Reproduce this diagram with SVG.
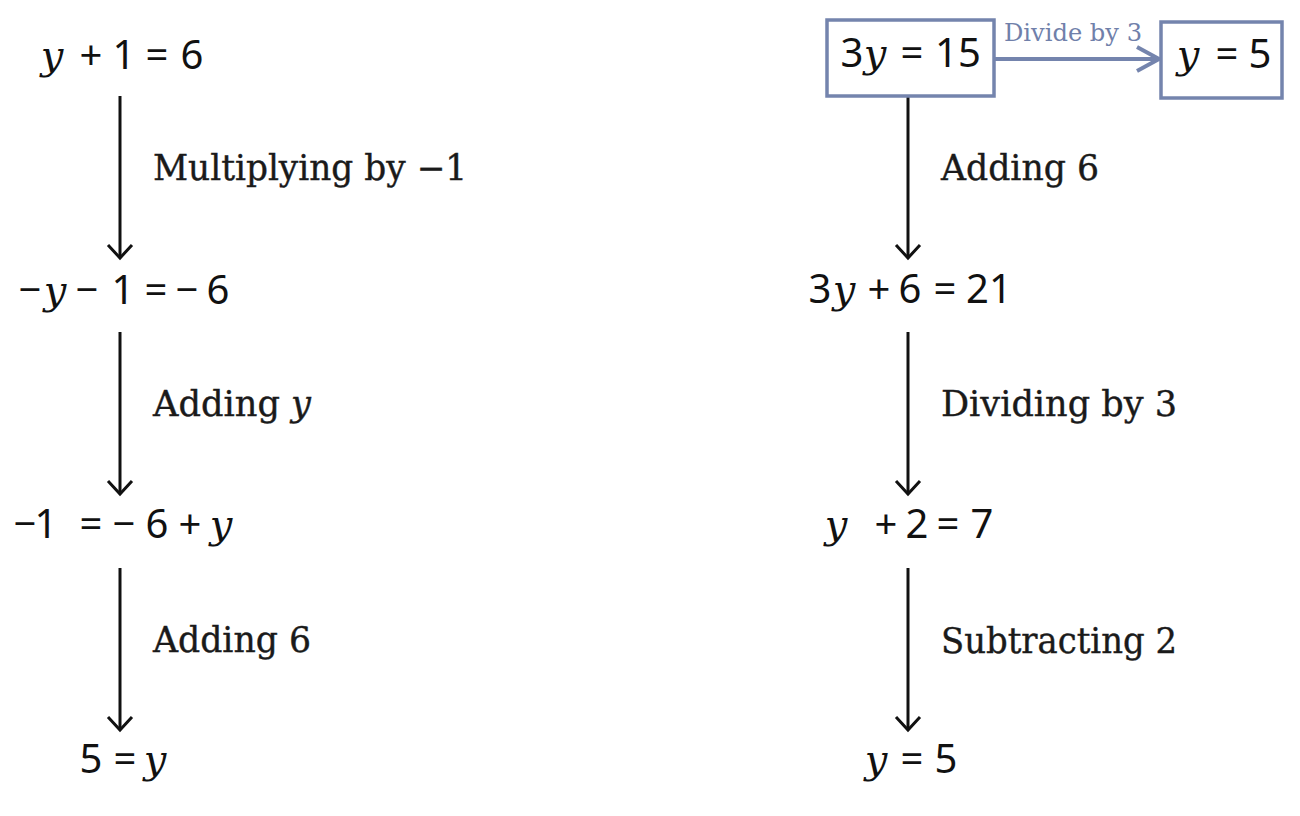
<svg xmlns="http://www.w3.org/2000/svg" width="1300" height="816" viewBox="0 0 1300 816">
<style>
.eq{font-family:"Noto Sans","Liberation Sans",sans-serif;font-size:40px;fill:#111;text-anchor:middle}
.v{font-family:"DejaVu Serif","Liberation Serif",serif;font-style:italic}
.lbl{font-family:"DejaVu Serif","Liberation Serif",serif;font-size:35px;fill:#1a1a1a;stroke:#1a1a1a;stroke-width:0.4}
.conn .k{stroke:#111;stroke-width:3;fill:none}
.box{fill:#fff;stroke:#7484ad;stroke-width:3.5}
.conn .blue{stroke:#7484ad;stroke-width:4;fill:none}
.bt{font-family:"DejaVu Serif","Liberation Serif",serif;font-size:24px;fill:#7080aa}
</style>
<rect width="1300" height="816" fill="#fff"/>
<g id="connectors" class="conn">
<line class="k" x1="120" y1="96" x2="120" y2="257"/><polyline class="k" points="108,245 120,258 132,245"/>
<line class="k" x1="120" y1="332" x2="120" y2="493"/><polyline class="k" points="108,481 120,494 132,481"/>
<line class="k" x1="120" y1="568" x2="120" y2="729"/><polyline class="k" points="108,717 120,730 132,717"/>
<line class="k" x1="908" y1="97" x2="908" y2="257"/><polyline class="k" points="896,245 908,258 920,245"/>
<line class="k" x1="908" y1="332" x2="908" y2="493"/><polyline class="k" points="896,481 908,494 920,481"/>
<line class="k" x1="908" y1="568" x2="908" y2="729"/><polyline class="k" points="896,717 908,730 920,717"/>
<line class="blue" x1="994" y1="59" x2="1157" y2="59"/><polyline class="blue" points="1137,47 1159,59 1137,71"/>
</g>
<text class="bt" x="1004" y="41" textLength="138" lengthAdjust="spacingAndGlyphs">Divide by 3</text>
<g id="l1"><text class="eq" y="69"><tspan class="v" x="52">y</tspan><tspan x="91">+</tspan><tspan x="124">1</tspan><tspan x="157">=</tspan><tspan x="192">6</tspan></text></g>
<g id="l2"><text class="eq" y="304"><tspan x="30">−</tspan><tspan class="v" x="55">y</tspan><tspan x="87">−</tspan><tspan x="123">1</tspan><tspan x="156">=</tspan><tspan x="187">−</tspan><tspan x="218">6</tspan></text></g>
<g id="l3"><text class="eq" y="538"><tspan x="25">−</tspan><tspan x="46">1</tspan><tspan x="91">=</tspan><tspan x="124">−</tspan><tspan x="157">6</tspan><tspan x="190">+</tspan><tspan class="v" x="221">y</tspan></text></g>
<g id="l4"><text class="eq" y="773"><tspan x="91">5</tspan><tspan x="125">=</tspan><tspan class="v" x="155">y</tspan></text></g>
<g id="r1"><rect class="box" x="827" y="20" width="167" height="76"/><text class="eq" y="67"><tspan x="852">3</tspan><tspan class="v" x="875">y</tspan><tspan x="912">=</tspan><tspan x="958">15</tspan></text></g>
<g id="r1b"><rect class="box" x="1161" y="22" width="121" height="76"/><text class="eq" y="68"><tspan class="v" x="1188">y</tspan><tspan x="1227">=</tspan><tspan x="1260">5</tspan></text></g>
<g id="r2"><text class="eq" y="303"><tspan x="820">3</tspan><tspan class="v" x="844">y</tspan><tspan x="879">+</tspan><tspan x="910">6</tspan><tspan x="945">=</tspan><tspan x="989">21</tspan></text></g>
<g id="r3"><text class="eq" y="538"><tspan class="v" x="836">y</tspan><tspan x="886">+</tspan><tspan x="917">2</tspan><tspan x="948">=</tspan><tspan x="982">7</tspan></text></g>
<g id="r4"><text class="eq" y="773"><tspan class="v" x="876">y</tspan><tspan x="912">=</tspan><tspan x="946">5</tspan></text></g>
<g id="labels">
<text class="lbl" x="153" y="180" textLength="314" lengthAdjust="spacingAndGlyphs">Multiplying by −1</text>
<text class="lbl" x="153" y="416" textLength="158" lengthAdjust="spacingAndGlyphs">Adding <tspan font-style="italic">y</tspan></text>
<text class="lbl" x="153" y="652" textLength="158" lengthAdjust="spacingAndGlyphs">Adding 6</text>
<text class="lbl" x="941" y="180" textLength="158" lengthAdjust="spacingAndGlyphs">Adding 6</text>
<text class="lbl" x="941" y="416" textLength="236" lengthAdjust="spacingAndGlyphs">Dividing by 3</text>
<text class="lbl" x="941" y="653" textLength="236" lengthAdjust="spacingAndGlyphs">Subtracting 2</text>
</g>
</svg>
